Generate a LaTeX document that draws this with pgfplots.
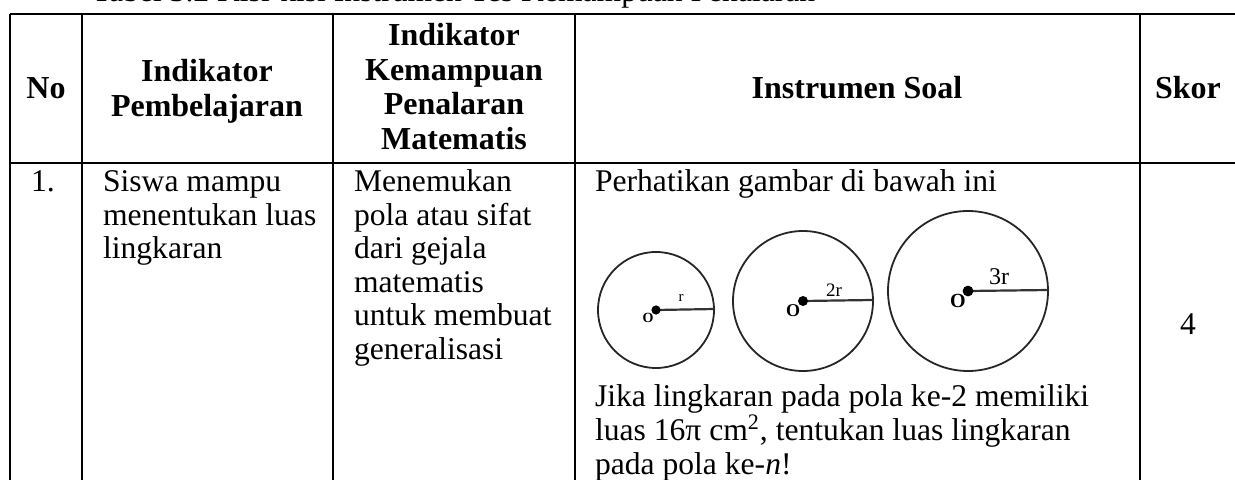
\documentclass[border=0pt]{standalone}
\usepackage{fontspec}
\setmainfont{Liberation Serif}
\usepackage{pgfplots}
\pgfplotsset{compat=1.18}

% 1 axis unit = 1 px of the reference = 0.5pt
\newcommand{\bodyfont}{\fontsize{15.8}{16.75}\selectfont}
\newcommand{\headfont}{\fontsize{16}{17.25}\selectfont\bfseries}

\begin{document}
\begin{tikzpicture}
\begin{axis}[
    width=617.5pt, height=240pt, scale only axis,
    xmin=0, xmax=1235, ymin=0, ymax=480, y dir=reverse,
    hide axis, clip=true,
    every node/.append style={inner sep=0pt, text=black},
]
% table rules
\addplot[black, line width=1.1pt] coordinates {(10,14)(1245,14)};
\addplot[black, line width=1.1pt] coordinates {(10,163)(1245,163)};
\addplot[black, line width=1.1pt] coordinates {(10,14)(10,495)};
\addplot[black, line width=1.1pt] coordinates {(82,14)(82,495)};
\addplot[black, line width=1.1pt] coordinates {(333,14)(333,495)};
\addplot[black, line width=1.1pt] coordinates {(575,14)(575,495)};
\addplot[black, line width=1.1pt] coordinates {(1140,14)(1140,495)};

% caption line cut off at the top
\node[anchor=base west, font=\bodyfont] at (85,2) {Tabel 3.2 Kisi-kisi Instrumen Tes Kemampuan Penalaran};

% header
\node[anchor=base, font=\headfont] at (46,99) {No};
\node[anchor=base, font=\headfont] at (207,82) {Indikator};
\node[anchor=base, font=\headfont] at (207,117) {Pembelajaran};
\node[anchor=base, font=\headfont] at (454,46) {Indikator};
\node[anchor=base, font=\headfont] at (454,81) {Kemampuan};
\node[anchor=base, font=\headfont] at (454,115) {Penalaran};
\node[anchor=base, font=\headfont] at (454,150) {Matematis};
\node[anchor=base, font=\headfont] at (857,99) {Instrumen Soal};
\node[anchor=base, font=\headfont] at (1188,99) {Skor};

% row 1
\node[anchor=base west, font=\bodyfont] at (24,192) {1.};
\node[anchor=base west, font=\bodyfont] at (96,192) {Siswa mampu};
\node[anchor=base west, font=\bodyfont] at (96,225.5) {menentukan luas};
\node[anchor=base west, font=\bodyfont] at (96,259) {lingkaran};
\node[anchor=base west, font=\bodyfont] at (347,192) {Menemukan};
\node[anchor=base west, font=\bodyfont] at (347,225.5) {pola atau sifat};
\node[anchor=base west, font=\bodyfont] at (347,259) {dari gejala};
\node[anchor=base west, font=\bodyfont] at (347,292.5) {matematis};
\node[anchor=base west, font=\bodyfont] at (347,326) {untuk membuat};
\node[anchor=base west, font=\bodyfont] at (347,359.5) {generalisasi};
\node[anchor=base west, font=\bodyfont] at (588,192) {Perhatikan gambar di bawah ini};
\node[anchor=base west, font=\bodyfont] at (588,406) {Jika lingkaran pada pola ke-2 memiliki};
\node[anchor=base west, font=\bodyfont] at (588,440) {luas 16π cm\textsuperscript{2}, tentukan luas lingkaran};
\node[anchor=base west, font=\bodyfont] at (588,474) {pada pola ke-\textit{n}!};
\node[anchor=base, font=\bodyfont] at (1188,335) {4};

% the three circles
\draw[black!85, line width=0.9pt] (656,310) circle[radius=29pt];
\draw[black!85, line width=0.9pt] (803,301) circle[radius=35pt];
\draw[black!85, line width=0.9pt] (968,291) circle[radius=40pt];
\draw[black!80, line width=1.1pt] (656,310) -- (715,309);
\draw[black!80, line width=1.1pt] (803,301) -- (873,300);
\draw[black!80, line width=1.1pt] (968,291) -- (1049,290);
\fill (656,310) circle[radius=2.3pt];
\fill (803,301) circle[radius=2.5pt];
\fill (968,291) circle[radius=2.7pt];
\node[font=\fontsize{7.5}{8}\selectfont] at (681,298) {r};
\node[font=\fontsize{9.5}{10}\selectfont] at (834,290) {2r};
\node[font=\fontsize{12}{12}\selectfont] at (999,277) {3r};
\node[font=\fontsize{7}{8}\selectfont\bfseries] at (648,318) {O};
\node[font=\fontsize{9}{10}\selectfont\bfseries] at (793,311) {O};
\node[font=\fontsize{10}{11}\selectfont\bfseries] at (958,301) {O};
\end{axis}
\pgfresetboundingbox
\path (current axis.south west) rectangle (current axis.north east);
\end{tikzpicture}
\end{document}
